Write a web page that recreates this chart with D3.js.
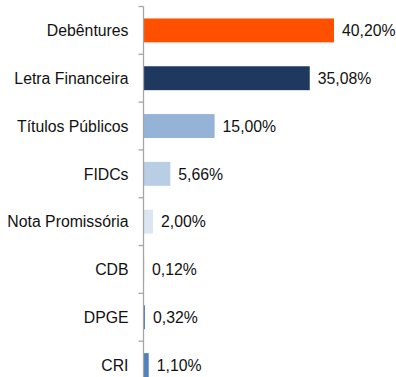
<!DOCTYPE html>
<html>
<head>
<meta charset="utf-8">
<script src="https://cdn.jsdelivr.net/npm/d3@7"></script>
<style>
  html, body { margin: 0; padding: 0; background: #fff; }
  svg { display: block; }
  text { font-family: "Liberation Sans", Arial, sans-serif; fill: #111; }
</style>
</head>
<body>
<svg id="chart" width="396" height="377"></svg>
<script>
// Composition of the portfolio by asset type (% of total)
const categories = ["Debêntures", "Letra Financeira", "Títulos Públicos", "FIDCs",
                    "Nota Promissória", "CDB", "DPGE", "CRI"];
const values = [40.20, 35.08, 15.00, 5.66, 2.00, 0.12, 0.32, 1.10];
const barColors = ["#FF5000", "#1F3860", "#95B3D7", "#B9CDE5",
                   "#DCE6F2", "#4F81BD", "#4F81BD", "#4F81BD"];

const svg = d3.select("#chart");
const axisX = 143.5;

const x = d3.scaleLinear().domain([0, 40.2]).range([axisX, axisX + 190.5]);
const y = d3.scaleBand().domain(categories).range([6.5, 389]).paddingInner(0.5).paddingOuter(0.25);

const fmt = v => v.toFixed(2).replace(".", ",") + "%";

// Bars
svg.append("g").selectAll("rect")
  .data(categories)
  .join("rect")
  .attr("x", axisX)
  .attr("y", d => y(d))
  .attr("width", (d, i) => x(values[i]) - axisX)
  .attr("height", y.bandwidth())
  .attr("fill", (d, i) => barColors[i]);

// Category axis: line with ticks at band boundaries
const axis = svg.append("g");
const step = y.step();
const y0 = y.range()[0];
axis.append("line")
  .attr("x1", axisX).attr("x2", axisX)
  .attr("y1", y0).attr("y2", y.range()[1])
  .attr("stroke", "#A6A6A6").attr("stroke-width", 1.3);
axis.selectAll("line.tick")
  .data(d3.range(categories.length + 1))
  .join("line")
  .attr("class", "tick")
  .attr("x1", axisX - 5).attr("x2", axisX)
  .attr("y1", i => y0 + i * step).attr("y2", i => y0 + i * step)
  .attr("stroke", "#A6A6A6").attr("stroke-width", 1.3);

// Category labels
svg.append("g").selectAll("text")
  .data(categories)
  .join("text")
  .attr("x", 128.5)
  .attr("y", d => y(d) + y.bandwidth() / 2)
  .attr("dy", "0.36em")
  .attr("text-anchor", "end")
  .attr("font-size", "15.8px")
  .text(d => d);

// Value labels
svg.append("g").selectAll("text")
  .data(categories)
  .join("text")
  .attr("x", (d, i) => x(values[i]) + 8)
  .attr("y", d => y(d) + y.bandwidth() / 2)
  .attr("dy", "0.36em")
  .attr("font-size", "15.8px")
  .text((d, i) => fmt(values[i]));
</script>
</body>
</html>
